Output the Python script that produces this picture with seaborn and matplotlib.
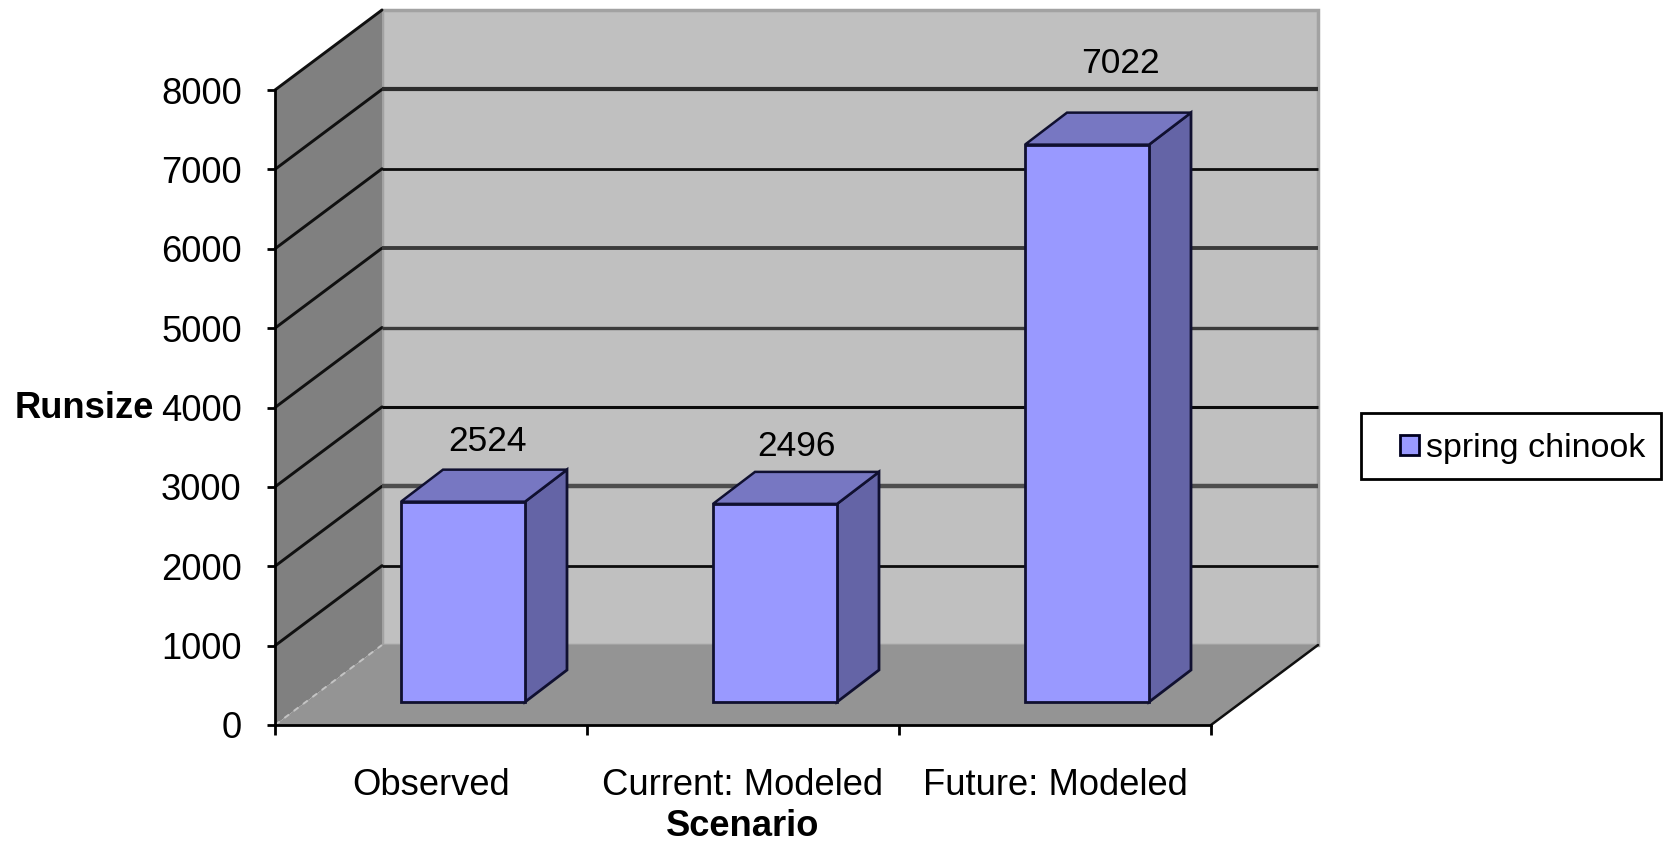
import matplotlib
matplotlib.use("Agg")
import matplotlib.pyplot as plt
from matplotlib.patches import Polygon, Rectangle, Patch
import seaborn as sns
import pandas as pd

scenarios = ["Observed", "Current: Modeled", "Future: Modeled"]
runsize = [2524, 2496, 7022]
series_name = "spring chinook"
y_ticks = [0, 1000, 2000, 3000, 4000, 5000, 6000, 7000, 8000]

W, H = 1667, 842
sns.set_style("white")
plt.rcParams["font.family"] = ["Liberation Sans", "DejaVu Sans"]
plt.rcParams["text.color"] = "black"
plt.rcParams["axes.labelcolor"] = "black"
plt.rcParams["xtick.color"] = "black"
plt.rcParams["ytick.color"] = "black"

fig = plt.figure(figsize=(W / 100, H / 100), dpi=100)
ax = fig.add_axes([275 / W, (H - 725) / H, 936 / W, 635 / H])
ax.set_facecolor("none")

df = pd.DataFrame({"Scenario": scenarios, "Runsize": runsize})
sns.barplot(data=df, x="Scenario", y="Runsize", width=124 / 312, color="#9999FF",
            saturation=1, edgecolor="#101030", linewidth=2.0, zorder=6, ax=ax)
ax.set_xlim(-0.5, 2.5)
ax.set_ylim(0, 8000)

# pixel -> data conversion for the oblique 3D projection
PX_X, PX_Y = 1 / 312, 8000 / 635
WALL_DX, WALL_DY = 107 * PX_X, 80 * PX_Y
BAR_DX, BAR_DY = 42 * PX_X, 32 * PX_Y
SHIFT_X, SHIFT_Y = 32 * PX_X, 23 * PX_Y
X0, X1 = -0.5, 2.5


def poly(pts, fc, ec="none", lw=0, z=1):
    ax.add_patch(Polygon(pts, closed=True, fc=fc, ec=ec, lw=lw, zorder=z, clip_on=False))


# back wall, left wall, floor
poly([(X0 + WALL_DX, WALL_DY), (X1 + WALL_DX, WALL_DY), (X1 + WALL_DX, 8000 + WALL_DY),
      (X0 + WALL_DX, 8000 + WALL_DY)], "#C0C0C0", "#A2A2A2", 2.5, 1)
poly([(X0, 0), (X0 + WALL_DX, WALL_DY), (X0 + WALL_DX, 8000 + WALL_DY), (X0, 8000)], "#808080", z=2)
poly([(X0, 0), (X1, 0), (X1 + WALL_DX, WALL_DY), (X0 + WALL_DX, WALL_DY)], "#949494", z=2)

# gridlines on the walls
grid_styles = {1000: ("#0C0C0C", 2.0), 2000: ("#4E4E4E", 3.2), 3000: ("#0C0C0C", 2.2), 4000: ("#3A3A3A", 2.4),
               5000: ("#3A3A3A", 2.8), 6000: ("#0C0C0C", 2.0), 7000: ("#2C2C2C", 3.0), 8000: (None, 0)}
for v in y_ticks[1:]:
    col, lw = grid_styles[v]
    ax.plot([X0, X0 + WALL_DX], [v, v + WALL_DY], color="#101010", lw=2.1, zorder=3, clip_on=False)
    if lw:
        ax.plot([X0 + WALL_DX, X1 + WALL_DX], [v + WALL_DY, v + WALL_DY], color=col, lw=lw,
                zorder=3, clip_on=False, solid_capstyle="butt")
ax.plot([X0, X0 + WALL_DX], [0, WALL_DY], color="#C4C4C4", lw=1.4, ls=(0, (3, 3)), zorder=3, clip_on=False)
ax.plot([X1, X1 + WALL_DX], [0, WALL_DY], color="#101010", lw=1.8, zorder=3, clip_on=False)

# bars: shift front faces into the floor, add side and top faces
for patch, value in zip(ax.patches[:3], runsize):
    patch.set_x(patch.get_x() + SHIFT_X)
    patch.set_y(SHIFT_Y)
    patch.set_clip_on(False)
    x0, x1 = patch.get_x(), patch.get_x() + patch.get_width()
    y0, y1 = SHIFT_Y, SHIFT_Y + value
    poly([(x1, y0), (x1 + BAR_DX, y0 + BAR_DY), (x1 + BAR_DX, y1 + BAR_DY), (x1, y1)],
         "#6464A6", "#101030", 2.0, 5)
    poly([(x0, y1), (x1, y1), (x1 + BAR_DX, y1 + BAR_DY), (x0 + BAR_DX, y1 + BAR_DY)],
         "#7777C2", "#101030", 1.8, 5)

# data labels
label_offsets = [(24, 60), (21, 57), (33, 81)]
for i, (value, (ox, oy)) in enumerate(zip(runsize, label_offsets)):
    ax.text(i + SHIFT_X + ox * PX_X, SHIFT_Y + value + oy * PX_Y, str(value), ha="center", va="center",
            fontsize=25.5, color="black", zorder=8)

# axes
sns.despine(ax=ax, top=True, right=True)
for s in ("left", "bottom"):
    ax.spines[s].set_color("black")
    ax.spines[s].set_linewidth(2)
    ax.spines[s].set_zorder(7)
ax.set_yticks(y_ticks)
ax.set_yticklabels([str(v) for v in y_ticks])
ax.set_xticks([-0.5, 0.5, 1.5, 2.5])
ax.set_xticklabels([])
ax.set_xticks([0, 1, 2], minor=True)
ax.set_xticklabels(scenarios, minor=True)
ax.tick_params(axis="y", which="major", left=True, length=6, width=2, color="black", pad=18, labelsize=26.2)
ax.tick_params(axis="x", which="major", bottom=True, length=7, width=2, color="black")
ax.tick_params(axis="x", which="minor", bottom=False, pad=29, labelsize=26.2)
ax.set_xlabel("Scenario", fontsize=26.2, fontweight="bold", labelpad=0)
ax.xaxis.set_label_coords(0.5, (725 - 826) / 635, transform=ax.transAxes)
ax.xaxis.label.set_va("center")
ax.set_ylabel("Runsize", fontsize=26.2, fontweight="bold", rotation=0, ha="right", va="center")
ax.yaxis.set_label_coords((154 - 275) / 936, (725 - 408) / 635, transform=ax.transAxes)

# legend
fig.add_artist(Rectangle((1361 / W, (H - 479) / H), 300 / W, 66 / H, transform=fig.transFigure,
                         fc="white", ec="black", lw=2))
leg = fig.legend(handles=[Patch(fc="#9999FF", ec="#000020", lw=2, label=series_name)],
                 loc="center left", bbox_to_anchor=(1400 / W, (H - 449) / H), frameon=False,
                 fontsize=24.5, borderpad=0, borderaxespad=0, handlelength=0.56,
                 handleheight=0.53, handletextpad=0.2)

fig.savefig("out.png", dpi=100)
